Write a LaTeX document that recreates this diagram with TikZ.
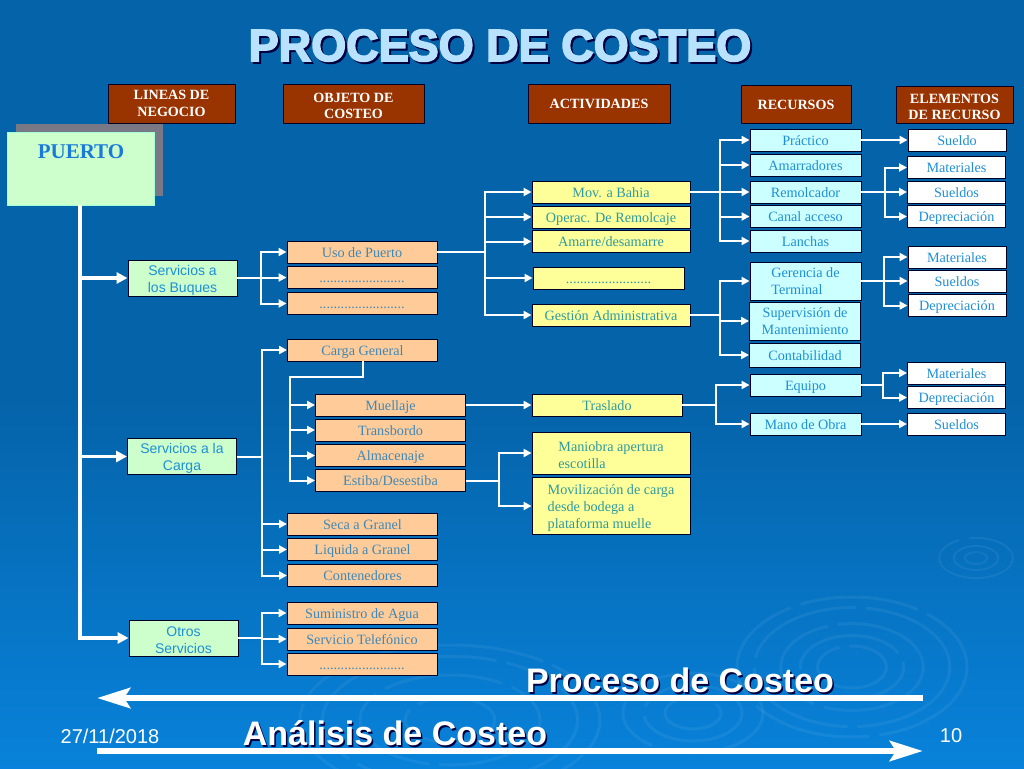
\documentclass[tikz,border=0pt]{standalone}
\usepackage{fontspec}
\setmainfont{Liberation Serif}
\setsansfont{Liberation Sans}
\newfontfamily\titlefont[FakeBold=3.5]{Liberation Sans Bold}
\usetikzlibrary{arrows.meta,shadings}

\definecolor{fondotop}{HTML}{0563A9}
\definecolor{fondobot}{HTML}{0882DA}
\definecolor{cafe}{HTML}{993300}
\definecolor{verde}{HTML}{CCFFCC}
\definecolor{naranja}{HTML}{FFCC99}
\definecolor{amarillo}{HTML}{FFFF99}
\definecolor{celeste}{HTML}{CCFFFF}
\definecolor{letra}{HTML}{1E8FD6}
\definecolor{letranar}{HTML}{3E88B8}
\definecolor{letraama}{HTML}{2C9AA0}
\definecolor{titulo}{HTML}{B9E2FF}

% baja el texto de las cajas de varias lineas
\newcommand{\bajar}{\rule{0pt}{14pt}}

\tikzset{
  caja/.style={draw=black!85!blue, line width=0.9pt, inner sep=0pt, align=center, font=\fontsize{14.2}{17}\selectfont,
    text height=14pt, text depth=4pt},
  varias/.style={text height=, text depth=},
  cabecera/.style={caja, fill=cafe, text=white, font=\fontsize{14.1}{16.5}\selectfont\bfseries},
  linea/.style={caja, varias, fill=verde, text=letra, minimum width=109pt, minimum height=36pt, font=\fontsize{14}{17}\sffamily},
  objeto/.style={caja, fill=naranja, text=letranar, minimum width=150pt, minimum height=22pt},
  actividad/.style={caja, fill=amarillo, text=letraama, minimum width=158pt, minimum height=22pt},
  recurso/.style={caja, fill=celeste, text=letra, minimum width=111pt, minimum height=22pt},
  elemento/.style={caja, fill=white, text=letra, minimum width=98pt, minimum height=22pt},
  enlace/.style={draw=white, line width=2pt, -{Triangle[length=8pt,width=8pt]}},
  grueso/.style={draw=white, line width=3.2pt, -{Triangle[length=11pt,width=11pt]}},
  flecha/.style={draw=white, line width=6.5pt, -{Stealth[length=33pt,width=20pt,inset=6pt]}},
  anillo/.style={draw=white, opacity=0.06, line width=3pt, dash pattern=on 120pt off 10pt},
  grande/.style={font=\fontsize{34}{34}\sffamily\bfseries},
  pie/.style={font=\fontsize{20}{20}\sffamily, text=white}
}

\begin{document}
\begin{tikzpicture}[x=1pt,y=-1pt]
  \useasboundingbox (0,0) rectangle (1024,768);
  % Fondo
  \fill[fondotop] (0,0) rectangle (1024,400);
  \shade[top color=fondotop, bottom color=fondobot] (0,400) rectangle (1024,768);
  \foreach \r in {0.3,0.45,0.62,0.85,1} \draw[anillo] (852,667) ellipse ({115*\r} and {70*\r});
  \foreach \r in {0.3,0.6,1} \draw[anillo, line width=2pt] (976,558) ellipse ({37*\r} and {20*\r});
  \foreach \r in {0.3,0.6,0.85,1} \draw[anillo] (450,720) ellipse ({150*\r} and {75*\r});
  \foreach \r in {0.4,0.7,1} \draw[anillo] (693,713) ellipse ({70*\r} and {40*\r});

  % Titulo
  \node[text=black!75!blue, font=\fontsize{45}{45}\titlefont] (tituloSombra) at (502,47.5) {PROCESO DE COSTEO};
  \node[text=titulo, font=\fontsize{45}{45}\titlefont] (tituloTexto) at (500,45.5) {PROCESO DE COSTEO};

  % Cabeceras
  \node[cabecera, varias, minimum width=127pt, minimum height=39pt] (lineas) at (171.5,103.5) {LINEAS DE\\NEGOCIO};
  \node[cabecera, varias, minimum width=141pt, minimum height=39pt] (objetos) at (353.5,103.5) {\bajar OBJETO DE\\COSTEO};
  \node[cabecera, minimum width=142pt, minimum height=39pt] (actividades) at (599,103.5) {ACTIVIDADES};
  \node[cabecera, minimum width=110pt, minimum height=38pt] (recursos) at (796,104) {RECURSOS};
  \node[cabecera, varias, minimum width=117pt, minimum height=37pt] (elementos) at (954.5,104.5) {\bajar ELEMENTOS\\DE RECURSO};

  % Puerto
  \fill[gray!95!blue] (16,124) rectangle (163,196);
  \node[fill=verde, draw=verde!80!cyan, line width=0.6pt, minimum width=147pt, minimum height=73pt] (puerto) at (81,168.5) {};
  \node[text=letra!85!blue, font=\fontsize{21}{21}\selectfont\bfseries] (puertoTexto) at (81,152) {PUERTO};

  % Lineas de negocio
  \node[linea] (buques) at (182.5,278) {\bajar Servicios a\\los Buques};
  \node[linea] (carga) at (182,456.5) {\bajar Servicios a la\\Carga};
  \node[linea] (otros) at (183.5,638) {\bajar Otros\\Servicios};
  \coordinate (troncoA) at (80,278);
  \coordinate (troncoB) at (80,456.5);
  \coordinate (troncoC) at (80,638);

  % Objetos de costeo
  \node[objeto] (uso) at (362,252) {Uso de Puerto};
  \node[objeto] (usoB) at (362,277.5) {........................};
  \node[objeto] (usoC) at (362,303.5) {........................};
  \node[objeto] (general) at (362.5,350) {Carga General};
  \node[objeto] (muellaje) at (390.5,405) {Muellaje};
  \node[objeto] (transbordo) at (390.5,430) {Transbordo};
  \node[objeto] (almacenaje) at (390.5,455.5) {Almacenaje};
  \node[objeto] (estiba) at (390.5,480.5) {Estiba/Desestiba};
  \node[objeto] (seca) at (362.5,524) {Seca a Granel};
  \node[objeto] (liquida) at (362.5,549.5) {Liquida a Granel};
  \node[objeto] (contenedores) at (362.5,575.5) {Contenedores};
  \node[objeto] (agua) at (362,613) {Suministro de Agua};
  \node[objeto] (telefono) at (362,639) {Servicio Telefónico};
  \node[objeto] (otrosC) at (362,664) {........................};

  % Actividades
  \node[actividad] (bahia) at (611,192) {Mov. a Bahia};
  \node[actividad] (remolcaje) at (611,217) {Operac. De Remolcaje};
  \node[actividad] (amarre) at (611,241.5) {Amarre/desamarre};
  \node[actividad, minimum width=151pt] (actB) at (608.5,278) {........................};
  \node[actividad] (gestion) at (611,315) {Gestión Administrativa};
  \node[actividad, minimum width=150pt] (traslado) at (607,405) {Traslado};
  \node[actividad, varias, minimum height=42pt, align=left] (maniobra) at (611,453) {\bajar Maniobra apertura\\escotilla};
  \node[actividad, varias, minimum height=57pt, align=left] (movil) at (611,506) {\bajar Movilización de carga\\desde bodega a\\plataforma muelle};

  % Recursos
  \node[recurso] (practico) at (805.5,140) {Práctico};
  \node[recurso] (amarradores) at (805.5,165) {Amarradores};
  \node[recurso] (remolcador) at (805.5,192) {Remolcador};
  \node[recurso] (canal) at (805.5,216.5) {Canal acceso};
  \node[recurso] (lanchas) at (805.5,241) {Lanchas};
  \node[recurso, varias, minimum height=38pt, align=left] (gerencia) at (805.5,281) {Gerencia de\\Terminal};
  \node[recurso, varias, minimum height=38pt] (supervision) at (805,321) {Supervisión de\\Mantenimiento};
  \node[recurso, minimum height=24pt] (contabilidad) at (805,355) {Contabilidad};
  \node[recurso] (equipo) at (805.5,385) {Equipo};
  \node[recurso] (mano) at (805.5,424) {Mano de Obra};

  % Elementos de recurso
  \node[elemento] (sueldoA) at (957,140) {Sueldo};
  \node[elemento] (materialA) at (956.5,167.5) {Materiales};
  \node[elemento] (sueldoB) at (956.5,192) {Sueldos};
  \node[elemento] (depreA) at (956.5,216.5) {Depreciación};
  \node[elemento] (materialB) at (957,257) {Materiales};
  \node[elemento] (sueldoC) at (957,281) {Sueldos};
  \node[elemento] (depreB) at (957,305.5) {Depreciación};
  \node[elemento] (materialC) at (956.5,373) {Materiales};
  \node[elemento] (depreC) at (956.5,397.5) {Depreciación};
  \node[elemento] (sueldoD) at (956.5,424) {Sueldos};

  % Tronco
  \draw[grueso] (puerto.south -| troncoA) -- (troncoC) -- (otros.west);
  \draw[grueso] (troncoA) -- (buques.west);
  \draw[grueso] (troncoB) -- (carga.west);

  % Conectores
  \foreach \dst in {uso,usoB,usoC} \draw[enlace] (buques.east) -- ++(24,0) |- (\dst.west);
  \foreach \dst in {general,seca,liquida,contenedores} \draw[enlace] (carga.east) -- ++(25.5,0) |- (\dst.west);
  \foreach \dst in {agua,telefono,otrosC} \draw[enlace] (otros.east) -- ++(24,0) |- (\dst.west);
  \foreach \dst in {muellaje,transbordo,almacenaje,estiba} \draw[enlace] (general.south) -- ++(0,16) -| (289.5,405) |- (\dst.west);
  \foreach \dst in {bahia,remolcaje,amarre,actB,gestion} \draw[enlace] (uso.east) -- ++(47.5,0) |- (\dst.west);
  \foreach \dst in {maniobra,movil} \draw[enlace] (estiba.east) -- ++(33,0) |- (\dst.west);
  \draw[enlace] (muellaje.east) -- (traslado.west);
  \foreach \dst in {practico,amarradores,remolcador,canal,lanchas} \draw[enlace] (bahia.east) -- ++(30,0) |- (\dst.west);
  \foreach \dst in {gerencia,supervision,contabilidad} \draw[enlace] (gestion.east) -- ++(29.5,0) |- (\dst.west);
  \foreach \dst in {equipo,mano} \draw[enlace] (traslado.east) -- ++(34,0) |- (\dst.west);
  \draw[enlace] (practico.east) -- (sueldoA.west);
  \foreach \dst in {materialA,sueldoB,depreA} \draw[enlace] (remolcador.east) -- ++(23.5,0) |- (\dst.west);
  \foreach \dst in {materialB,sueldoC,depreB} \draw[enlace] (gerencia.east) -- ++(23,0) |- (\dst.west);
  \foreach \dst in {materialC,depreC} \draw[enlace] (equipo.east) -- ++(22,0) |- (\dst.west);
  \draw[enlace] (mano.east) -- (sueldoD.west);

  % Flechas grandes
  \coordinate (procesoIni) at (923,698);
  \coordinate (procesoFin) at (97,698);
  \coordinate (analisisIni) at (97,751);
  \coordinate (analisisFin) at (923,751);
  \draw[flecha] (procesoIni) -- (procesoFin);
  \draw[flecha] (analisisIni) -- (analisisFin);
  \node[grande, text=black!75!blue] (procesoSombra) at (681.5,682) {Proceso de Costeo};
  \node[grande, text=white] (procesoTexto) at (680,680.5) {Proceso de Costeo};
  \node[grande, text=black!75!blue] (analisisSombra) at (396.5,735) {Análisis de Costeo};
  \node[grande, text=white] (analisisTexto) at (395,733.5) {Análisis de Costeo};

  % Pie
  \node[pie] (fecha) at (110,736) {27/11/2018};
  \node[pie] (numero) at (951,736) {10};
\end{tikzpicture}
\end{document}
